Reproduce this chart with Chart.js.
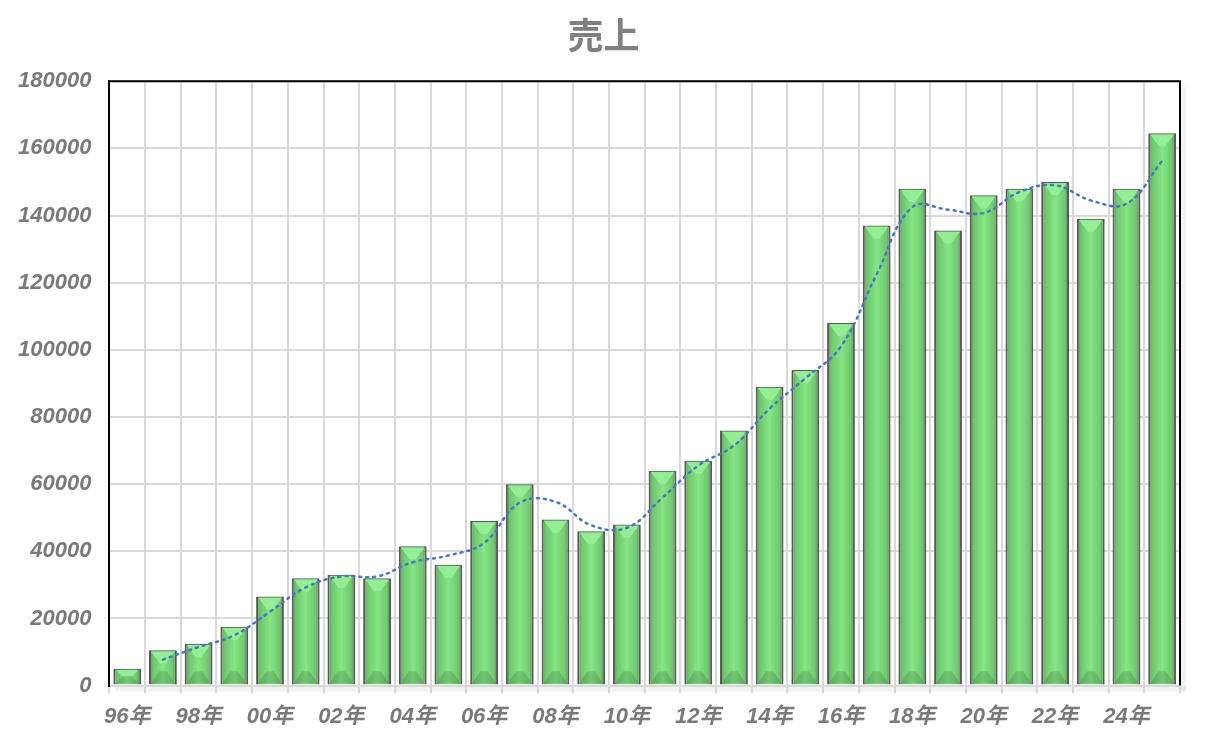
<!DOCTYPE html>
<html>
<head>
<meta charset="utf-8">
<script src="https://cdn.jsdelivr.net/npm/chart.js@4.4.1/dist/chart.umd.min.js"></script>
<style>
    html, body { margin: 0; padding: 0; background: #fff; }
    #wrap { width: 1207px; height: 745px; }
</style>
</head>
<body>
<div id="wrap"><canvas id="sales-chart"></canvas></div>
<script>
/*** データ ***/
const years = ['96年', '97年', '98年', '99年', '00年', '01年', '02年', '03年', '04年', '05年',
    '06年', '07年', '08年', '09年', '10年', '11年', '12年', '13年', '14年', '15年',
    '16年', '17年', '18年', '19年', '20年', '21年', '22年', '23年', '24年', '25年'];
const sales = [5000, 10500, 12500, 17500, 26500, 32000, 33000, 32000, 41500, 36000,
    49000, 60000, 49500, 46000, 48000, 64000, 67000, 76000, 89000, 94000,
    108000, 137000, 148000, 135500, 146000, 148000, 150000, 139000, 148000, 164500];
// 2区間移動平均
const trend = [null, 7750, 11500, 15000, 22000, 29250, 32500, 32500, 36750, 38750,
    42500, 54500, 54750, 47750, 47000, 56000, 65500, 71500, 82500, 91500,
    101000, 122500, 142500, 141750, 140750, 147000, 149000, 144500, 143500, 156250];
const yTicks = [0, 20000, 40000, 60000, 80000, 100000, 120000, 140000, 160000, 180000];

const tickFont = { family: '"Liberation Sans", "Noto Sans CJK JP", sans-serif', size: 22, weight: 'bold', style: 'italic' };

/*** 棒の立体感 ***/
const bevelPlugin = {
    id: 'bevel',
    beforeDatasetDraw(chart, args) {
        if (args.meta.type !== 'bar') return;
        const c = chart.ctx;
        args.meta.data.forEach(bar => {
            const p = bar.getProps(['x', 'width'], true);
            const g = c.createLinearGradient(p.x - p.width / 2, 0, p.x + p.width / 2, 0);
            g.addColorStop(0, '#5a945a');
            g.addColorStop(0.15, '#6fc66f');
            g.addColorStop(0.5, '#84e684');
            g.addColorStop(0.85, '#70c870');
            g.addColorStop(1, '#4f874f');
            bar.options.backgroundColor = g;
        });
    },
    afterDatasetDraw(chart, args) {
        if (args.meta.type !== 'bar') return;
        const c = chart.ctx;
        c.save();
        args.meta.data.forEach(bar => {
            const p = bar.getProps(['x', 'y', 'width', 'base'], true);
            const l = p.x - p.width / 2 + 2, r = p.x + p.width / 2 - 2;
            const d = Math.min(12, (p.base - p.y) / 2);
            // 上面（明るい三角）
            c.fillStyle = 'rgba(150, 238, 150, 0.95)';
            c.beginPath();
            c.moveTo(l, p.y + 1);
            c.lineTo(r, p.y + 1);
            c.lineTo(p.x + 3, p.y + 1 + d);
            c.lineTo(p.x - 3, p.y + 1 + d);
            c.closePath();
            c.fill();
            // 下面（暗い台形）
            c.fillStyle = 'rgba(50, 100, 50, 0.25)';
            c.beginPath();
            c.moveTo(l, p.base - 1);
            c.lineTo(r, p.base - 1);
            c.lineTo(r - 8, p.base - 1 - d);
            c.lineTo(l + 8, p.base - 1 - d);
            c.closePath();
            c.fill();
        });
        c.restore();
    }
};

/*** 枠線 ***/
const framePlugin = {
    id: 'frame',
    beforeDraw(chart) {
        const a = chart.chartArea;
        const c = chart.ctx;
        c.save();
        c.fillStyle = 'rgba(0,0,0,0.05)';
        c.fillRect(a.right, a.top + 6, 6, a.bottom - a.top);
        c.fillRect(a.left + 6, a.bottom, a.right - a.left, 6);
        c.restore();
    },
    afterDraw(chart) {
        const a = chart.chartArea;
        const c = chart.ctx;
        c.save();
        c.strokeStyle = '#000';
        c.lineWidth = 2;
        c.beginPath();
        c.moveTo(a.left, a.top);
        c.lineTo(a.right, a.top);
        c.lineTo(a.right, a.bottom);
        c.stroke();
        c.restore();
    }
};

const ctx = document.getElementById('sales-chart').getContext('2d');
const salesChart = new Chart(ctx, {
    type: 'bar',
    data: {
        labels: years,
        datasets: [
            {
                type: 'line',
                label: '移動平均',
                data: trend,
                borderColor: '#4a78c0',
                borderWidth: 2.5,
                borderDash: [2, 5],
                borderCapStyle: 'round',
                pointRadius: 0,
                tension: 0.4,
                fill: false,
                order: 0
            },
            {
                label: '売上',
                data: sales,
                // 関数にして棒ごとにオプションを分ける
                backgroundColor: () => '#7ee07e',
                borderColor: '#5a5a5a',
                borderWidth: 2,
                barPercentage: 0.78,
                categoryPercentage: 1,
                order: 1
            }
        ]
    },
    options: {
        responsive: true,
        maintainAspectRatio: false,
        animation: false,
        layout: {
            padding: { left: 0, right: 0, top: 0, bottom: 5 }
        },
        plugins: {
            legend: { display: false },
            tooltip: { enabled: false },
            title: {
                display: true,
                text: '売上',
                color: '#808080',
                font: { family: '"Noto Sans CJK JP", sans-serif', size: 36, weight: 'bold' },
                padding: { top: 14, bottom: 24 }
            }
        },
        scales: {
            x: {
                grid: {
                    offset: true,
                    color: '#d9d9d9',
                    lineWidth: 2,
                    tickLength: 8
                },
                border: { color: '#d9d9d9', width: 2 },
                ticks: {
                    autoSkip: false,
                    maxRotation: 0,
                    color: '#7a7a7a',
                    font: tickFont,
                    padding: 10,
                    callback: function(value, index) {
                        return index % 2 === 0 ? years[index] : '';
                    }
                }
            },
            y: {
                min: 0,
                max: 180000,
                afterBuildTicks: function(axis) {
                    axis.ticks = yTicks.map(v => ({ value: v }));
                },
                grid: {
                    color: '#d9d9d9',
                    lineWidth: 2,
                    drawTicks: false
                },
                border: { color: '#000', width: 2 },
                ticks: {
                    color: '#7a7a7a',
                    font: tickFont,
                    padding: 18,
                    callback: value => String(value)
                }
            },
            // 右側の余白用（表示なし）
            yRight: {
                position: 'right',
                min: 0,
                max: 180000,
                grid: { display: false },
                border: { display: false },
                ticks: { display: false },
                afterFit: function(axis) {
                    axis.width = 27;
                }
            }
        }
    },
    plugins: [bevelPlugin, framePlugin]
});
</script>
</body>
</html>
